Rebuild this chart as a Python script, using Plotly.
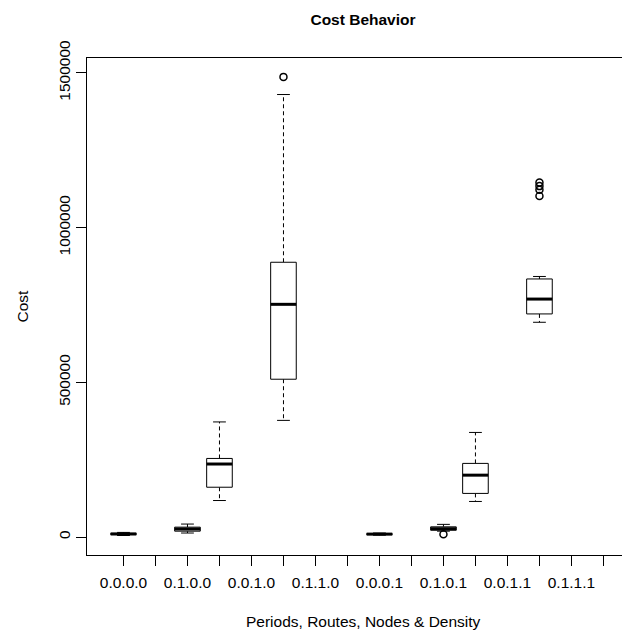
import plotly.graph_objects as go

# ---- data ----
categories = ["0.0.0.0", "1.0.0.0", "0.1.0.0", "1.1.0.0",
              "0.0.1.0", "1.0.1.0", "0.1.1.0", "1.1.1.0",
              "0.0.0.1", "1.0.0.1", "0.1.0.1", "1.1.0.1",
              "0.0.1.1", "1.0.1.1", "0.1.1.1", "1.1.1.1"]
shown_labels = ["0.0.0.0", "0.1.0.0", "0.0.1.0", "0.1.1.0",
                "0.0.0.1", "0.1.0.1", "0.0.1.1", "0.1.1.1"]

box_groups   = ["0.0.0.0", "0.1.0.0", "1.1.0.0", "1.0.1.0",
                "0.0.0.1", "0.1.0.1", "1.1.0.1", "1.0.1.1"]
lower_whisk  = [5000, 13000, 118000, 377000, 6000, 19000, 115000, 694000]
q1_vals      = [8000, 19000, 161000, 510000, 8000, 22000, 141000, 721000]
median_vals  = [10000, 26000, 236000, 752000, 9500, 27000, 200000, 769000]
q3_vals      = [12000, 32000, 254000, 888000, 11000, 33000, 238000, 834000]
upper_whisk  = [15000, 42000, 372000, 1430000, 13000, 41000, 338000, 842000]
outlier_grp  = ["1.0.1.0", "0.1.0.1", "1.0.1.1", "1.0.1.1", "1.0.1.1", "1.0.1.1"]
outlier_vals = [1487000, 9000, 1146000, 1134000, 1122000, 1102000]

y_ticks = [0, 500000, 1000000, 1500000]

# ---- geometry helpers ----
pos = {c: i + 1 for i, c in enumerate(categories)}
half_box = 0.4
half_staple = 0.2

bx, by, mx, my, wx, wy, sx, sy = [], [], [], [], [], [], [], []
for g, lo, a, m, b, hi in zip(box_groups, lower_whisk, q1_vals, median_vals, q3_vals, upper_whisk):
    p = pos[g]
    bx += [p - half_box, p + half_box, p + half_box, p - half_box, p - half_box, None]
    by += [a, a, b, b, a, None]
    mx += [p - half_box, p + half_box, None]
    my += [m, m, None]
    wx += [p, p, None, p, p, None]
    wy += [b, hi, None, a, lo, None]
    sx += [p - half_staple, p + half_staple, None, p - half_staple, p + half_staple, None]
    sy += [hi, hi, None, lo, lo, None]

fig = go.Figure()
fig.add_trace(go.Scatter(x=wx, y=wy, mode="lines",
                         line=dict(color="black", width=1, dash="4px,3px"),
                         hoverinfo="skip", showlegend=False))
fig.add_trace(go.Scatter(x=sx, y=sy, mode="lines",
                         line=dict(color="black", width=1),
                         hoverinfo="skip", showlegend=False))
fig.add_trace(go.Scatter(x=bx, y=by, mode="lines",
                         line=dict(color="black", width=1),
                         fill="toself", fillcolor="white",
                         hoverinfo="skip", showlegend=False))
fig.add_trace(go.Scatter(x=mx, y=my, mode="lines",
                         line=dict(color="black", width=3),
                         hoverinfo="skip", showlegend=False))
fig.add_trace(go.Scatter(x=[pos[g] for g in outlier_grp], y=outlier_vals, mode="markers",
                         marker=dict(symbol="circle-open", size=7, color="black",
                                     line=dict(width=1.5)),
                         hoverinfo="skip", showlegend=False))

FONT = "Liberation Sans, Arial, sans-serif"
tick_text = [c if c in shown_labels else "" for c in categories]

# The page body has an 8px default margin, so the figure is drawn 8px in from the
# top-left corner of the window; all pixel positions below are relative to that.
OFF = 8
W, H = 630 - OFF, 633 - OFF
L, T = 87 - OFF, 58 - OFF
B = H - (555 - OFF)
PW, PH = W - L, H - T - B
cx = 363 - OFF  # horizontal centre of titles

fig.update_layout(
    width=W, height=H,
    margin=dict(l=L, r=0, t=T, b=B, pad=0),
    paper_bgcolor="white", plot_bgcolor="white",
    font=dict(family=FONT, size=15.5, color="black"),
    title=dict(text="<b>Cost Behavior</b>", x=cx / W, xanchor="center",
               y=1 - (20 - OFF) / H, yanchor="middle",
               font=dict(family=FONT, size=15.5, color="black")),
    xaxis=dict(range=[-0.14, 16.83], showgrid=False, zeroline=False,
               showline=True, linecolor="black", linewidth=1, mirror=True,
               tickmode="array", tickvals=list(range(1, len(categories) + 1)),
               ticktext=tick_text, ticks="outside", ticklen=10,
               tickcolor="black", tickwidth=1, ticklabelstandoff=3,
               tickfont=dict(size=15.5)),
    yaxis=dict(range=[-58000, 1548000], showgrid=False, zeroline=False,
               showline=True, linecolor="black", linewidth=1,
               tickmode="array", tickvals=y_ticks,
               ticktext=[str(v) for v in y_ticks],
               ticks="outside", ticklen=10, tickcolor="black", tickwidth=1,
               tickangle=-90, tickfont=dict(size=15.5)),
    annotations=[
        dict(text="Periods, Routes, Nodes & Density", xref="paper", yref="paper",
             x=(cx - L) / PW, y=-(622 - 555) / PH, xanchor="center", yanchor="middle",
             showarrow=False, font=dict(size=15.5)),
        dict(text="Cost", xref="paper", yref="paper",
             x=(22 - 87) / PW, y=0.5, xanchor="center", yanchor="middle",
             textangle=-90, showarrow=False, font=dict(size=15.5)),
    ],
)

fig.write_html("out.html")
